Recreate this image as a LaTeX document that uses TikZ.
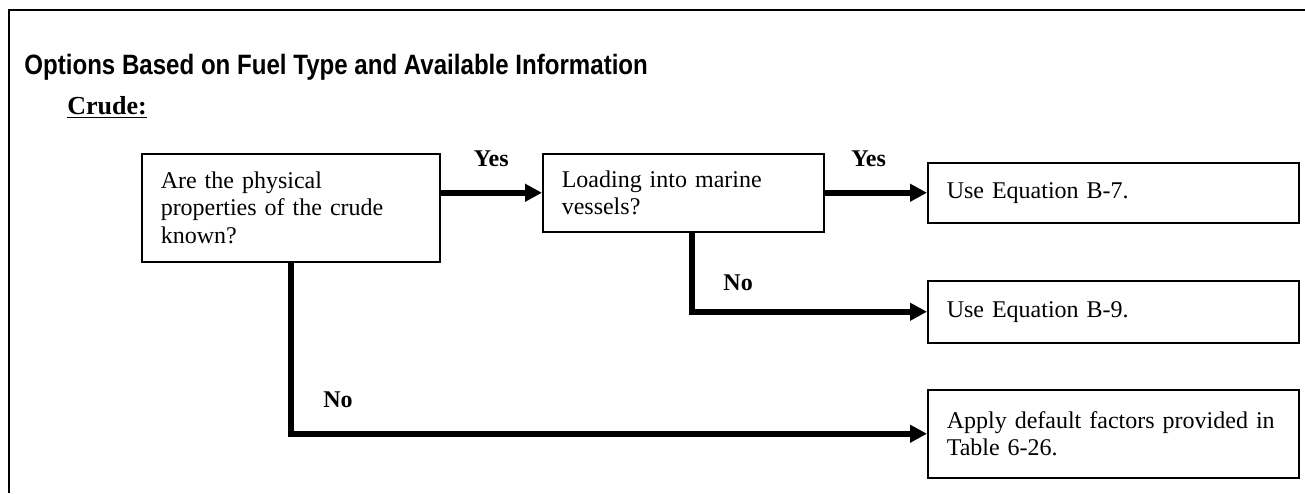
\documentclass[tikz,border=0pt]{standalone}
\usepackage{fontspec}
\setmainfont{Liberation Serif}
\newfontfamily\headfont[FakeStretch=0.86]{Liberation Sans}
\usetikzlibrary{arrows.meta,positioning}
\tikzset{
    line/.style   = {-{Triangle[length=8.5pt,width=8.5pt]}, line width=3pt},
    block/.style  = {draw, line width=0.75pt, anchor=north west,
            inner xsep=9.5pt, inner ysep=0pt, align=left,
            font=\fontsize{12}{13.8}\selectfont},
    answer/.style = {font=\fontsize{12}{14}\selectfont\bfseries},
}

\begin{document}
\begin{tikzpicture}[x=0.5pt, y=-0.5pt]
    \useasboundingbox (0,0) rectangle (1305,493);
    % frame
    \draw[line width=1pt] (1305,10) -- (9,10) -- (9,493);

    % Headings
    \node[anchor=base west, inner sep=0pt, font=\headfont\fontsize{14}{17}\selectfont\bfseries] (title) at (24,74) {Options Based on Fuel Type and Available Information};
    \node[anchor=base west, inner sep=0pt, font=\fontsize{13}{15}\selectfont\bfseries] (crude) at (67,114) {\underline{Crude:}};

    % Nodes
    \node[block, minimum width=149pt, minimum height=54pt, text width=130pt] (known) at (141,153) {Are the physical\\ properties of the crude\\ known?};
    \node[block, minimum width=140.5pt, minimum height=39pt, text width=121.5pt] (loading) at (542,153) {Loading into marine\\ vessels?};
    \node[block, minimum width=185.5pt, minimum height=30pt, text width=166.5pt] (eqseven) at (927,162) {Use Equation B-7.};
    \node[block, minimum width=185.5pt, minimum height=31pt, text width=166.5pt] (eqnine) at (927,280) {Use Equation B-9.};
    \node[block, minimum width=185.5pt, minimum height=44pt, text width=166.5pt] (defaults) at (927,389) {Apply default factors provided in\\ Table 6-26.};

    % Arrows
    \draw[line] (known.east |- loading.west) -- node[answer, midway, above=8pt]{Yes} (loading.west);
    \draw[line] (loading.east) -- node[answer, pos=0.43, above=8pt]{Yes} (loading.east -| eqseven.west);
    \draw[line] ([xshift=4.25pt]loading.south) |- node[answer, pos=0.32, right=11pt]{No} (eqnine.west);
    \draw[line] (known.south) |- node[answer, pos=0.4, right=11.5pt]{No} (defaults.west);
\end{tikzpicture}
\end{document}
